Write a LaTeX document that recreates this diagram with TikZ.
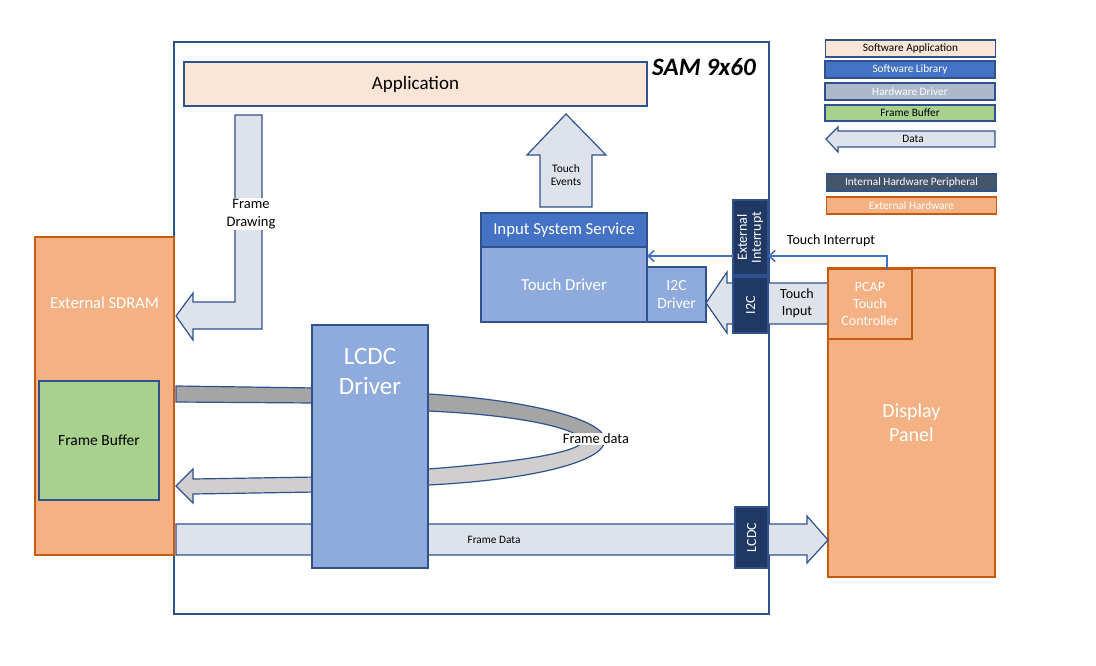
\documentclass[tikz,border=0pt]{standalone}
\usepackage{fontspec}
\setmainfont{Carlito}
\usetikzlibrary{arrows.meta}
\definecolor{bord}{HTML}{2F528F}
\definecolor{appc}{HTML}{FBE5D6}
\definecolor{libc}{HTML}{4472C4}
\definecolor{drvc}{HTML}{8FAADC}
\definecolor{hwdrv}{HTML}{ADB9CA}
\definecolor{fbc}{HTML}{A9D18E}
\definecolor{datac}{HTML}{DEE3EB}
\definecolor{perc}{HTML}{203864}
\definecolor{perl}{HTML}{44546A}
\definecolor{extc}{HTML}{F4B183}
\definecolor{extb}{HTML}{C55A11}
\definecolor{darkg}{HTML}{A5A5A5}
\definecolor{lightg}{HTML}{D0CECE}
\newcommand{\fs}[1]{\fontsize{#1pt}{1.2\dimexpr#1pt\relax}\selectfont}
\begin{document}
\begin{tikzpicture}[x=1pt,y=-1pt,
  box/.style={draw=bord,line width=1.2pt,inner sep=0pt,outer sep=0pt,rectangle},
  extbox/.style={draw=extb,fill=extc,line width=1.2pt,inner sep=0pt,outer sep=0pt,rectangle},
  perbox/.style={box,fill=perc,text=white},
  dataarrow/.style={draw=bord,fill=datac,line width=1.2pt,line join=miter},
  lbl/.style={inner sep=1pt,align=center},
  leg/.style={box,minimum width=170,minimum height=17,font=\fs{11.3}}
]
\useasboundingbox (0,0) rectangle (1096,665);

% main chip
\node[box,fill=white,minimum width=595,minimum height=572] (sam) at (471.5,328) {};
\node[lbl,font=\fs{25}\bfseries\itshape] (samt) at (704,67) {SAM 9x60};

% external SDRAM
\node[extbox,minimum width=139,minimum height=318] (sdram) at (104.5,396) {};
\node[lbl,text=white,font=\fs{16.5}] (sdramt) at (104.5,303) {External SDRAM};
\node[box,fill=fbc,minimum width=120,minimum height=119,font=\fs{15.5}] (fb) at (99,440.5) {Frame Buffer};

% display panel
\node[extbox,minimum width=167,minimum height=309,text=white,font=\fs{20},align=center] (disp) at (911.5,422.5) {Display\\Panel};

% application
\node[box,fill=appc,minimum width=463,minimum height=44,font=\fs{19}] (app) at (415.5,84) {Application};

% frame drawing arrow
\draw[dataarrow] (235,115) -- (262,115) -- (262,329) -- (193,329) -- (193,340) -- (176,316) -- (193,293) -- (193,302) -- (235,302) -- cycle;
\node[lbl,fill=white,font=\fs{14.5}] (fdt) at (251,214) {Frame\\Drawing};

% touch events arrow
\draw[dataarrow] (540,207) -- (540,155) -- (527,155) -- (566,114) -- (606,155) -- (592,155) -- (592,207) -- cycle;
\node[lbl,font=\fs{11.5}] (tet) at (566,175) {Touch\\Events};

% frame data loop
\draw[draw=bord,fill=darkg,line width=1.2pt] (176,386) -- (316,388) -- (316,403) -- (176,402) -- cycle;
\draw[draw=bord,fill=darkg,line width=1.2pt] (420,393) -- (428,394) .. controls (530,400) and (605,420) .. (605,440) -- (583,440) .. controls (575,428) and (520,415) .. (428,411) -- (420,411) -- cycle;
\draw[draw=bord,fill=lightg,line width=1.2pt] (420,469) -- (428,469) .. controls (520,462) and (583,452) .. (583,440) -- (605,440) .. controls (605,462) and (530,480) .. (428,485) -- (420,485) -- cycle;
\draw[draw=bord,fill=lightg,line width=1.2pt,line join=miter] (316,477) -- (193,479) -- (193,469) -- (176,486) -- (193,503) -- (193,494) -- (316,492) -- cycle;
\node[lbl,fill=white,font=\fs{14.4}] (fdl) at (596,439) {Frame data};

% bottom frame data arrow
\draw[dataarrow] (176,524) -- (807,524) -- (807,516) -- (828,540) -- (807,563) -- (807,555) -- (176,555) -- cycle;
\node[lbl,font=\fs{11.3}] (fdb) at (494,540) {Frame Data};

% LCDC driver
\node[box,fill=drvc,minimum width=116,minimum height=243] (lcdcdrv) at (370,446.5) {};
\node[lbl,text=white,font=\fs{25}] (lcdct) at (370,371) {LCDC\\Driver};
\node[perbox,minimum width=33,minimum height=61] (lcdc) at (751.5,537.5) {\rotatebox{90}{\fs{14}LCDC}};

% touch input arrow
\draw[dataarrow] (828,283) -- (727,283) -- (727,272) -- (706,303) -- (727,333) -- (727,324) -- (828,324) -- cycle;
\node[lbl,font=\fs{14}] (tit) at (797,303) {Touch\\Input};

% input system / touch driver
\node[box,fill=libc,minimum width=166,minimum height=34,text=white,font=\fs{16.8}] (iss) at (564,230) {Input System Service};
\node[box,fill=drvc,minimum width=166,minimum height=75,text=white,font=\fs{16.8}] (tdrv) at (564,284.5) {Touch Driver};
\node[box,fill=drvc,minimum width=59,minimum height=55,text=white,font=\fs{15.5},align=center] (i2cdrv) at (676.5,294.5) {I2C\\Driver};

% peripherals
\node[perbox,minimum width=35,minimum height=75] (extint) at (750.5,237.5) {\rotatebox{90}{\fs{14}\begin{tabular}{@{}c@{}}External\\[-3pt]Interrupt\end{tabular}}};
\node[perbox,minimum width=35,minimum height=56] (i2c) at (750.5,305) {\rotatebox{90}{\fs{14}I2C}};

% PCAP
\node[extbox,minimum width=84,minimum height=70,text=white,font=\fs{14},align=center] (pcap) at (870,304) {PCAP\\Touch\\Controller};

% interrupt connectors
\coordinate (ei) at (733,256);
\coordinate (td) at (647,256);
\draw[libc,line width=1.6pt,-{Straight Barb[length=6pt,width=11pt]}] (ei) -- (td);
\coordinate (pc) at (887,269);
\coordinate (eir) at (768,256);
\draw[libc,line width=1.6pt,-{Straight Barb[length=6pt,width=11pt]}] (pc) |- (eir);
\node[lbl,font=\fs{14}] (tint) at (831,241) {Touch Interrupt};

% legend
\node[leg,fill=appc] (la) at (910.5,48.5) {Software Application};
\node[leg,fill=libc,text=white] (lb) at (910,69.5) {Software Library};
\node[leg,fill=hwdrv,text=white] (lc) at (910,91.5) {Hardware Driver};
\node[leg,fill=fbc,minimum height=16] (ld) at (910,113) {Frame Buffer};
\draw[dataarrow] (995,131) -- (838,131) -- (838,127) -- (826,139) -- (838,152) -- (838,147) -- (995,147) -- cycle;
\node[lbl,font=\fs{11.3}] (ldt) at (913,139) {Data};
\node[leg,fill=perl,text=white] (le) at (911.5,182.5) {Internal Hardware Peripheral};
\node[leg,draw=extb,fill=extc,text=white] (lf) at (911.5,205.5) {External Hardware};
\end{tikzpicture}
\end{document}
